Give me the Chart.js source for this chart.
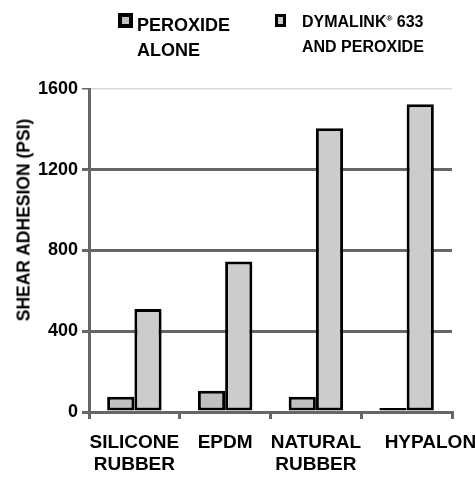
<!DOCTYPE html>
<html>
<head>
<meta charset="utf-8">
<script src="https://cdn.jsdelivr.net/npm/chart.js@4"></script>
<style>
	body { margin: 0; background: #fff; font-family: "Liberation Sans", Arial, sans-serif; font-weight: bold; }
	#wrap { position: relative; width: 475px; height: 478px; }
	#chart { position: absolute; left: 0; top: 0; }
	.box { position: absolute; box-sizing: border-box; border: 3px solid #000; }
	.txt { position: absolute; color: #000; white-space: nowrap; line-height: 1; }
	#ytitle { position: absolute; left: 24px; top: 220px; font-size: 17.5px; white-space: nowrap;
		transform: translate(-50%, -50%) rotate(-90deg); }
</style>
</head>
<body>
<div id="wrap">
	<canvas id="chart" width="475" height="478"></canvas>
	<div class="box" style="left:118px;top:13px;width:15px;height:15px;border-width:4px;background:#c0c0c0"></div>
	<div class="txt" style="left:137px;top:16px;font-size:18px">PEROXIDE</div>
	<div class="txt" style="left:137px;top:41px;font-size:18px">ALONE</div>
	<div class="box" style="left:275px;top:14px;width:11px;height:13px;background:#cccccc"></div>
	<div class="txt" style="left:302px;top:14px;font-size:16px">DYMALINK<sup style="font-size:8px">®</sup> 633</div>
	<div class="txt" style="left:302px;top:39px;font-size:16px">AND PEROXIDE</div>
	<div id="ytitle">SHEAR ADHESION (PSI)</div>
</div>
<script>
var categories = [["SILICONE", "RUBBER"], "EPDM", ["NATURAL", "RUBBER"], "         HYPALON"];
var peroxideAlone = [75, 105, 75, 20];
var dymalinkPeroxide = [510, 745, 1405, 1525];
var yTicks = [0, 400, 800, 1200, 1600];

var font = { family: "'Liberation Sans', Arial, sans-serif", weight: 'bold' };

var chartdata = {
	labels: categories,
	datasets: [{
		label: 'PEROXIDE ALONE',
		backgroundColor: '#c0c0c0',
		borderColor: '#000',
		borderWidth: 3,
		borderSkipped: false,
		data: peroxideAlone
	}, {
		label: 'DYMALINK 633 AND PEROXIDE',
		backgroundColor: '#cccccc',
		borderColor: '#000',
		borderWidth: 3,
		borderSkipped: false,
		data: dymalinkPeroxide
	}]
};

var ctx = document.getElementById('chart');
var barGraph = new Chart(ctx, {
	type: 'bar',
	data: chartdata,
	options: {
		responsive: false,
		animation: false,
		layout: { padding: { left: 0, right: 23, top: 89, bottom: 0 } },
		datasets: { bar: { categoryPercentage: 0.6, barPercentage: 1.0 } },
		plugins: { legend: { display: false }, tooltip: { enabled: false } },
		scales: {
			x: {
				afterFit: function (s) { s.height = 66; s.paddingRight = 0; },
				grid: { display: true, drawOnChartArea: false, drawTicks: true, tickLength: 7, color: '#666', lineWidth: 3, offset: true },
				border: { display: true, color: '#666', width: 3 },
				ticks: {
					color: '#000',
					padding: 13,
					maxRotation: 0,
					autoSkip: false,
					font: { family: font.family, weight: 'bold', size: 19, lineHeight: 1.16 }
				}
			},
			y: {
				min: yTicks[0],
				max: yTicks[yTicks.length - 1],
				afterFit: function (s) { s.width = 89; },
				afterBuildTicks: function (s) { s.ticks = yTicks.map(function (v) { return { value: v }; }); },
				grid: {
					drawTicks: true,
					tickLength: 7,
					color: function (c) { return c.tick && c.tick.value === 1600 ? '#d9d9d9' : '#666'; },
					tickColor: '#666',
					lineWidth: function (c) { return c.tick && c.tick.value === 1600 ? 1.5 : 3; }
				},
				border: { display: true, color: '#666', width: 3 },
				ticks: {
					color: '#000',
					padding: 4,
					callback: function (v) { return String(v); },
					font: { family: font.family, weight: 'bold', size: 18 }
				}
			}
		}
	}
});
</script>
</body>
</html>
